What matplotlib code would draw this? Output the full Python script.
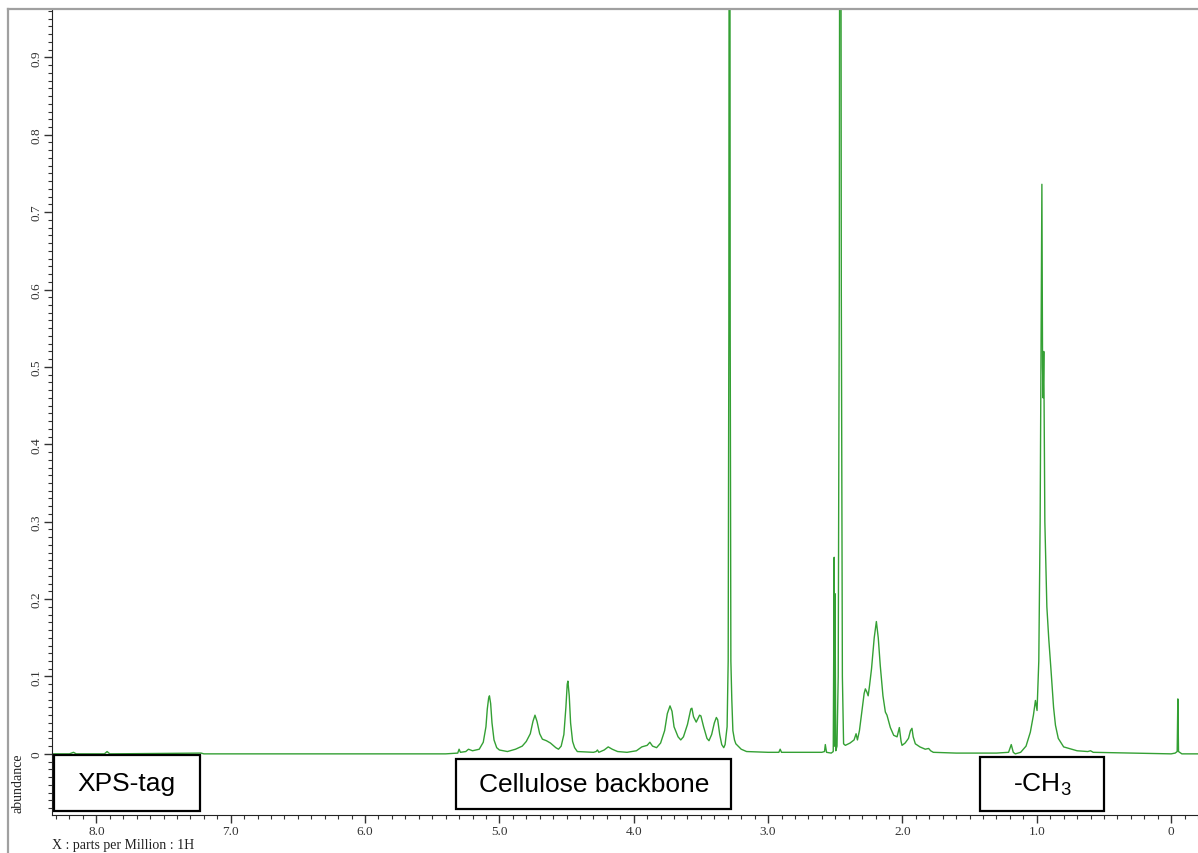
import matplotlib
matplotlib.use("Agg")
import matplotlib.pyplot as plt
from matplotlib.lines import Line2D
from matplotlib.patches import Rectangle
from matplotlib.ticker import MultipleLocator, FuncFormatter

# spectrum trace (ppm, abundance)
ppm = [
    8.33, 8.20, 8.17, 8.15, 7.94, 7.92, 7.90, 7.22, 7.20, 6.00, 5.40,
    5.31, 5.30, 5.29, 5.25, 5.23, 5.20, 5.15, 5.12, 5.10, 5.09, 5.08,
    5.074, 5.065, 5.055, 5.04, 5.02, 5.00, 4.94, 4.88, 4.83, 4.80, 4.77,
    4.75, 4.735, 4.72, 4.70, 4.68, 4.65, 4.62, 4.58, 4.56, 4.54, 4.52,
    4.505, 4.495, 4.49, 4.48, 4.47, 4.455, 4.44, 4.42, 4.30, 4.28, 4.27,
    4.26, 4.22, 4.19, 4.16, 4.12, 4.05, 3.98, 3.94, 3.90, 3.88, 3.86,
    3.83, 3.80, 3.77, 3.75, 3.73, 3.715, 3.70, 3.67, 3.65, 3.63, 3.60,
    3.575, 3.567, 3.555, 3.535, 3.51, 3.50, 3.48, 3.455, 3.44, 3.42, 3.40,
    3.385, 3.375, 3.36, 3.345, 3.33, 3.32, 3.305, 3.297, 3.292, 3.287,
    3.282, 3.277, 3.27, 3.262, 3.25, 3.24, 3.20, 3.16, 3.00, 2.92, 2.91,
    2.90, 2.60, 2.58, 2.574, 2.565, 2.53, 2.515, 2.508, 2.505, 2.502,
    2.496, 2.487, 2.478, 2.470, 2.462, 2.455, 2.447, 2.438, 2.425, 2.39,
    2.36, 2.345, 2.335, 2.32, 2.30, 2.285, 2.276, 2.265, 2.255, 2.245,
    2.23, 2.21, 2.194, 2.18, 2.165, 2.145, 2.127, 2.115, 2.09, 2.065,
    2.04, 2.023, 2.01, 2.003, 1.98, 1.955, 1.94, 1.929, 1.92, 1.904,
    1.87, 1.83, 1.805, 1.79, 1.77, 1.60, 1.30, 1.21, 1.19, 1.175, 1.16,
    1.12, 1.08, 1.048, 1.025, 1.01, 0.998, 0.985, 0.975, 0.968, 0.962,
    0.957, 0.953, 0.948, 0.940, 0.925, 0.911, 0.894, 0.875, 0.861, 0.84,
    0.80, 0.70, 0.62, 0.60, 0.58, 0.30, 0.0, -0.03, -0.045, -0.05,
    -0.055, -0.08, -0.20,
]
abundance = [
    0.000, 0.000, 0.002, 0.000, 0.000, 0.003, 0.000, 0.001, 0.000, 0.000, 0.000,
    0.001, 0.006, 0.002, 0.003, 0.006, 0.004, 0.006, 0.015, 0.035, 0.058, 0.072,
    0.075, 0.065, 0.040, 0.018, 0.008, 0.005, 0.003, 0.006, 0.010, 0.016, 0.026,
    0.042, 0.050, 0.042, 0.026, 0.019, 0.017, 0.014, 0.008, 0.006, 0.010, 0.025,
    0.060, 0.090, 0.094, 0.075, 0.040, 0.016, 0.008, 0.003, 0.002, 0.003, 0.005,
    0.002, 0.005, 0.009, 0.006, 0.003, 0.002, 0.004, 0.009, 0.011, 0.015, 0.010,
    0.008, 0.014, 0.030, 0.052, 0.062, 0.055, 0.035, 0.022, 0.018, 0.022, 0.038,
    0.058, 0.059, 0.048, 0.041, 0.050, 0.049, 0.035, 0.020, 0.017, 0.025, 0.040,
    0.047, 0.044, 0.025, 0.012, 0.008, 0.012, 0.035, 0.12, 0.55, 2.0,
    0.55, 0.12, 0.07, 0.030, 0.018, 0.013, 0.006, 0.003, 0.002, 0.002, 0.006,
    0.002, 0.002, 0.003, 0.012, 0.002, 0.001, 0.003, 0.254, 0.010, 0.207,
    0.004, 0.010, 0.10, 0.6, 2.0, 0.6, 0.10, 0.013, 0.011, 0.014,
    0.018, 0.026, 0.018, 0.030, 0.058, 0.078, 0.084, 0.080, 0.075, 0.088,
    0.110, 0.150, 0.171, 0.150, 0.114, 0.075, 0.054, 0.050, 0.034, 0.024,
    0.022, 0.034, 0.016, 0.011, 0.014, 0.020, 0.030, 0.033, 0.022, 0.013,
    0.009, 0.006, 0.007, 0.004, 0.002, 0.001, 0.001, 0.002, 0.012, 0.002, 0.000,
    0.002, 0.010, 0.028, 0.050, 0.069, 0.056, 0.12, 0.30, 0.55, 0.736,
    0.50, 0.46, 0.52, 0.30, 0.19, 0.149, 0.108, 0.060, 0.037, 0.020,
    0.009, 0.004, 0.003, 0.004, 0.002, 0.001, 0.000, 0.001, 0.003, 0.071,
    0.003, 0.000, 0.000,
]

# annotation boxes: label, ppm left, ppm right, top, bottom
box_labels = ["XPS-tag", "Cellulose backbone", "-CH$_3$"]
box_left = [8.315, 5.32, 1.42]
box_right = [7.23, 3.275, 0.497]
box_top = [-0.0013, -0.0065, -0.004]
box_bottom = [-0.0736, -0.071, -0.0736]

plt.rcParams["mathtext.fontset"] = "custom"
plt.rcParams["mathtext.rm"] = "Liberation Sans"
plt.rcParams["mathtext.default"] = "regular"

W, H = 1198, 854
fig = plt.figure(figsize=(W / 100, H / 100), dpi=100)
ax = fig.add_axes([52 / W, (H - 816) / H, (W - 52) / W, (816 - 10) / H])

ax.plot(ppm, abundance, color="#34a034", lw=1.0)

ax.set_xlim(8.33, -0.2)
ax.set_ylim(-0.079, 0.9625)

for lab, xl, xr, yt, yb in zip(box_labels, box_left, box_right, box_top, box_bottom):
    ax.add_patch(Rectangle((xr, yb), xl - xr, yt - yb, fill=True, facecolor="white",
                           edgecolor="black", lw=1.6, zorder=3))
    ax.text((xl + xr) / 2, (yt + yb) / 2, lab, ha="center", va="center",
            fontsize=19, family="Liberation Sans", zorder=4)

# axes styling
ax.spines["top"].set_visible(False)
ax.spines["right"].set_visible(False)
ax.spines["left"].set_color("#222222")
ax.spines["bottom"].set_color("#222222")

ax.xaxis.set_major_locator(MultipleLocator(1.0))
ax.xaxis.set_minor_locator(MultipleLocator(0.1))
ax.yaxis.set_major_locator(MultipleLocator(0.1))
ax.yaxis.set_minor_locator(MultipleLocator(0.01))

fmt = FuncFormatter(lambda v, p: "0" if abs(v) < 1e-9 else f"{v:.1f}")
ax.xaxis.set_major_formatter(fmt)
ax.yaxis.set_major_formatter(fmt)

ax.tick_params(which="major", length=6, width=1, color="#333333", labelsize=9.5,
               labelcolor="#333333")
ax.tick_params(which="minor", length=3, width=0.8, color="#333333")
ax.tick_params(axis="x", which="major", pad=1.5)
ax.tick_params(axis="y", which="major", pad=0.5)
for lab in ax.get_xticklabels() + ax.get_yticklabels():
    lab.set_family("Liberation Serif")
for lab in ax.get_yticklabels():
    lab.set_rotation(90)
    lab.set_va("center")

fig.text(18 / W, 1 - 783 / H, "abundance", rotation=90, ha="center", va="center",
         fontsize=10, family="Liberation Serif", color="#222222")
fig.text(52 / W, 1 - 846 / H, "X : parts per Million : 1H", ha="left", va="center",
         fontsize=10, family="Liberation Serif", color="#222222")

# outer gray frame
fig.add_artist(Line2D([8 / W, 1], [1 - 10 / H, 1 - 10 / H], color="#a0a0a0", lw=1.6))
fig.add_artist(Line2D([8 / W, 8 / W], [0, 1 - 10 / H], color="#a0a0a0", lw=1.6))

fig.savefig("out.png", dpi=100)
